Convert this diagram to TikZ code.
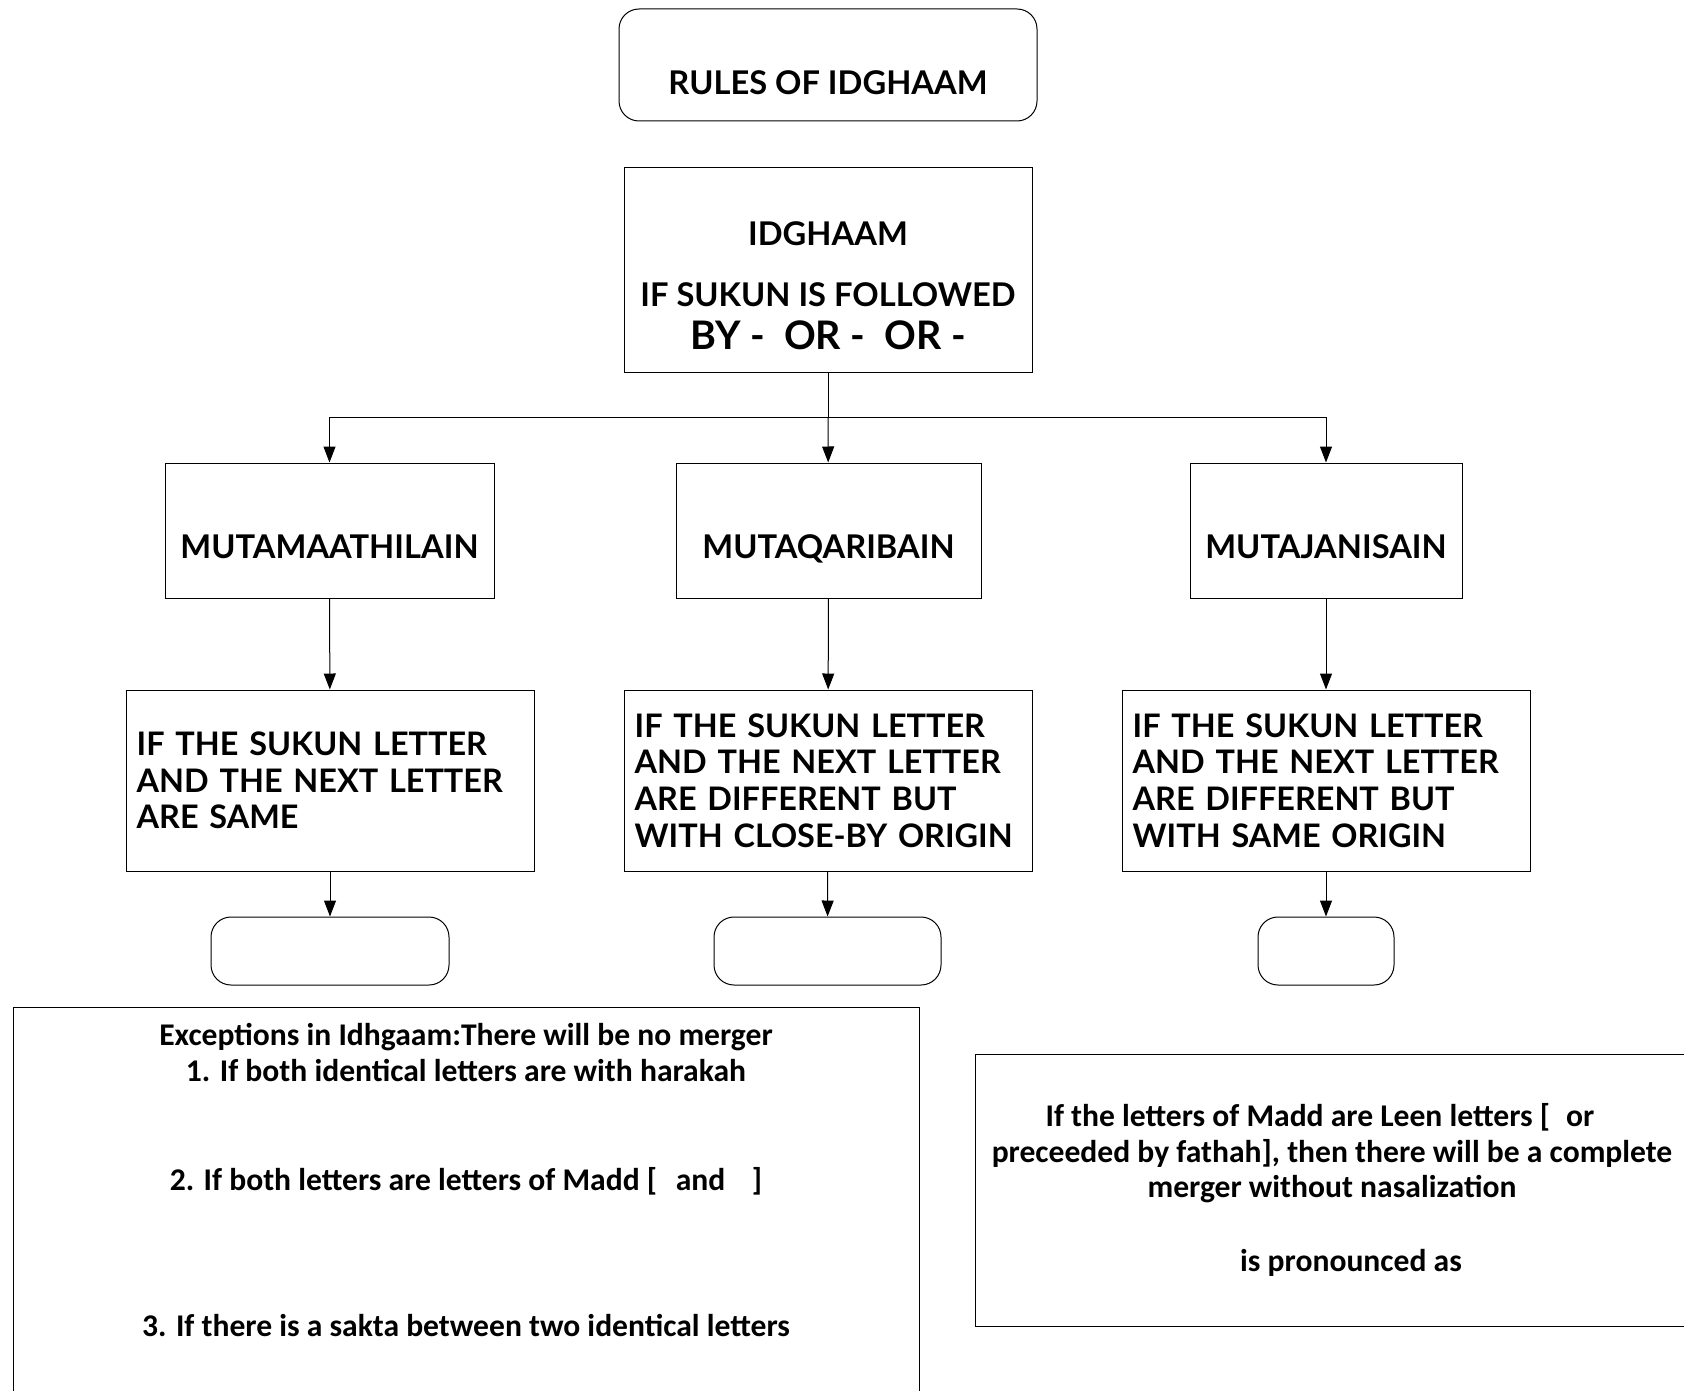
\documentclass[tikz,border=0pt]{standalone}
\usepackage{fontspec}
\setmainfont{Lato}
\newfontfamily\notefont{Carlito}
\usetikzlibrary{arrows.meta}

\tikzset{every picture/.style={line width=0.75pt}}
\tikzset{
  plainbox/.style={draw, rectangle, inner sep=0pt},
  roundbox/.style={draw, rectangle, rounded corners=15pt, inner sep=0pt},
  capstext/.style={font=\bfseries\fontsize{24.5}{27.4}\selectfont, inner sep=0.75pt, text height=17.6pt, text depth=0pt},
  rulebox/.style={draw, rectangle, font=\bfseries\fontsize{24.3}{27.4}\selectfont, align=left, text width=290pt, minimum height=135.75pt, inner xsep=8pt},
  notetext/.style={font=\notefont\bfseries\fontsize{23.7}{27}\selectfont, inner sep=0.75pt, text height=18pt, text depth=4pt},
  flow/.style={-{Triangle[length=12pt,width=9pt]}}
}

\begin{document}
\begin{tikzpicture}[x=0.75pt,y=0.75pt,yscale=-1,xscale=1]
\useasboundingbox (0,0) rectangle (1684,1391);

%Rounded Rect title
\node[roundbox, minimum width=313.5pt, minimum height=84pt] (title) at (828,65) {};
% Text Node
\node[capstext] (titletext) at (828,83) {RULES OF IDGHAAM};

%Rect idghaam
\node[plainbox, minimum width=306pt, minimum height=153pt] (idghaam) at (828,270) {};
% Text Node
\node[capstext] (idgname) at (828,234) {IDGHAAM};
\node[capstext] (idgcond) at (828,295) {IF SUKUN IS FOLLOWED};
\node[capstext, font=\bfseries\fontsize{29.5}{32}\selectfont, text height=21.2pt] (idgby) at (828,335) {BY -\ \ OR -\ \ OR -};

%Split point
\coordinate (split) at (828,417);

%Rect kinds
\node[plainbox, minimum width=246.75pt, minimum height=101.25pt] (mutam) at (329.5,530.5) {};
\node[plainbox, minimum width=228.75pt, minimum height=101.25pt] (mutaq) at (828.5,530.5) {};
\node[plainbox, minimum width=204pt, minimum height=101.25pt] (mutaj) at (1326,530.5) {};
% Text Node
\node[capstext] (mutamtext) at (329.5,547) {MUTAMAATHILAIN};
\node[capstext] (mutaqtext) at (828.5,547) {MUTAQARIBAIN};
\node[capstext] (mutajtext) at (1326,547) {MUTAJANISAIN};

%Rect rules
\node[rulebox] (ruleam) at (330,780.5) {IF THE SUKUN LETTER\\AND THE NEXT LETTER\\ARE SAME};
\node[rulebox] (ruleaq) at (828,780.5) {IF THE SUKUN LETTER\\AND THE NEXT LETTER\\ARE DIFFERENT BUT\\WITH CLOSE-BY ORIGIN};
\node[rulebox] (ruleaj) at (1326,780.5) {IF THE SUKUN LETTER\\AND THE NEXT LETTER\\ARE DIFFERENT BUT\\WITH SAME ORIGIN};

%Rounded Rect ends
\node[roundbox, minimum width=178.5pt, minimum height=51pt] (endam) at (330,951) {};
\node[roundbox, minimum width=170.25pt, minimum height=51pt] (endaq) at (827.5,951) {};
\node[roundbox, minimum width=102pt, minimum height=51pt] (endaj) at (1326,951) {};

%Straight Lines
\draw (idghaam) -- (split);
\draw[flow] (split) -| (mutam);
\draw[flow] (split) -- (mutaq);
\draw[flow] (split) -| (mutaj);
\draw[flow] (mutam) -- (ruleam);
\draw[flow] (mutaq) -- (ruleaq);
\draw[flow] (mutaj) -- (ruleaj);
\draw[flow] (ruleam) -- (endam);
\draw[flow] (ruleaq) -- (endaq);
\draw[flow] (ruleaj) -- (endaj);

%Rect exceptions
\node[plainbox, minimum width=679.5pt, minimum height=294.75pt] (except) at (466,1203.5) {};
% Text Node
\node[notetext] (exc1) at (466,1036) {Exceptions in Idhgaam:There will be no merger};
\node[notetext] (exc2) at (466,1072) {1. If both identical letters are with harakah};
\node[notetext] (exc3) at (466,1181) {2. If both letters are letters of Madd [\hspace{14pt}and\hspace{20pt}]};
\node[notetext] (exc4) at (466,1327) {3. If there is a sakta between two identical letters};

%Rect leen
\node[plainbox, minimum width=536.25pt, minimum height=204pt] (leen) at (1332.5,1190) {};
% Text Node
\node[notetext] (leen1) at (1320,1117) {If the letters of Madd are Leen letters [\hspace{12pt}or};
\node[notetext] (leen2) at (1332,1153) {preceeded by fathah], then there will be a complete};
\node[notetext] (leen3) at (1332,1188) {merger without nasalization};
\node[notetext] (leen4) at (1351,1262) {is pronounced as};

\end{tikzpicture}
\end{document}
